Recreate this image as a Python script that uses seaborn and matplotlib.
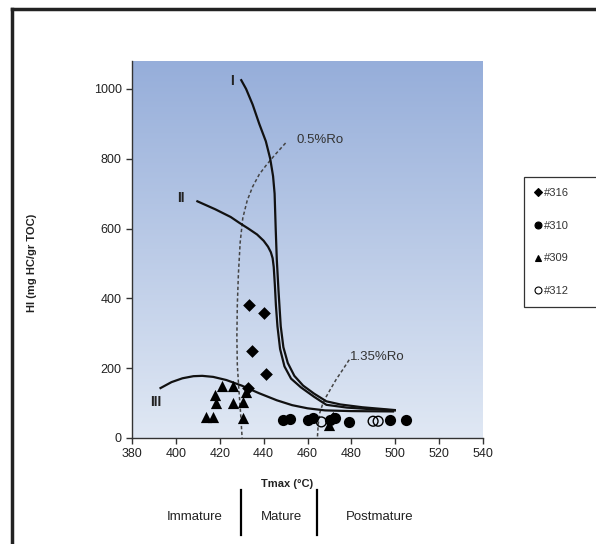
import numpy as np
import pandas as pd
import seaborn as sns
import matplotlib.pyplot as plt
from matplotlib.lines import Line2D

# kerogen type curves (Tmax, HI)
type1_x = [429.8, 432, 435, 438, 441, 443, 444.3, 445, 445.5, 446, 446.8, 447.8, 449, 451, 454, 458, 463, 468.6, 475, 485, 499.8]
type1_y = [1025, 1000, 955, 900, 850, 800, 750, 700, 600, 511, 420, 320, 260, 215, 178, 150, 127, 105, 96, 88, 80]
type2_x = [409.8, 418, 425, 429, 433, 437, 440, 442, 443.3, 444.1, 444.6, 445.1, 445.6, 446.3, 447.5, 449.5, 452.5, 457, 463, 468.6, 478, 490, 499.8]
type2_y = [678, 655, 633, 616, 600, 583, 565, 548, 532, 515, 490, 440, 380, 320, 255, 205, 170, 145, 118, 95, 87, 82, 79]
type3_x = [393, 398, 403, 408, 412, 417, 423, 430, 438, 446, 453, 460, 468, 480, 499]
type3_y = [143, 160, 171, 177, 178, 175, 166, 150, 128, 108, 94, 85, 79, 77, 76]

# vitrinite reflectance iso-lines
ro05_x = [450, 445, 441, 438, 435, 432.5, 430.5, 429.3, 428.5, 428, 427.8, 428, 428.7, 429.4, 430.2]
ro05_y = [845, 810, 780, 755, 720, 680, 630, 560, 470, 380, 290, 210, 140, 80, 0]
ro135_x = [479, 476, 473, 470.5, 468.5, 466.8, 465.6, 464.9, 464.5]
ro135_y = [224, 195, 167, 140, 118, 95, 72, 40, 0]

# samples
w316_x = [433.2, 440, 434.9, 441.2, 432.9, 471.6]
w316_y = [380, 358, 248, 183, 143, 57]
w310_x = [448.8, 451.9, 460.2, 462.5, 470.1, 472.4, 478.8, 497.5, 505]
w310_y = [52, 54, 52, 57, 52, 57, 46, 52, 52]
w309_x = [421, 426, 417.7, 418.5, 426, 430.6, 432.1, 413.9, 416.9, 430.6, 470]
w309_y = [149, 149, 123, 100, 101, 104, 133, 59, 59, 56, 38]
w312_x = [466.3, 489.9, 492.2]
w312_y = [46, 48, 48]

plt.rcParams['font.family'] = ['Liberation Sans', 'DejaVu Sans']

fig = plt.figure(figsize=(5.96, 5.44), dpi=100)
ax = fig.add_axes([0.2215, 0.1949, 0.5889, 0.693])

# gradient background
top = np.array([150, 174, 218]) / 255
bot = np.array([224, 232, 244]) / 255
t = np.linspace(0, 1, 256)[:, None]
grad = (top * (1 - t) + bot * t)[:, None, :].repeat(2, axis=1)
ax.imshow(grad, extent=[380, 540, 0, 1080], aspect='auto', zorder=0)

curves = [(type1_x, type1_y), (type2_x, type2_y), (type3_x, type3_y)]
for cx, cy in curves:
    d = pd.DataFrame({'x': cx, 'y': cy})
    sns.lineplot(data=d, x='x', y='y', sort=False, estimator=None, color='#111111', lw=1.6, ax=ax, zorder=3)

for cx, cy in [(ro05_x, ro05_y), (ro135_x, ro135_y)]:
    d = pd.DataFrame({'x': cx, 'y': cy})
    sns.lineplot(data=d, x='x', y='y', sort=False, estimator=None, color='#444444', lw=1.1,
                 linestyle=(0, (2.2, 1.6)), ax=ax, zorder=2)

samples = [('#316', w316_x, w316_y, 'D', 'black', 42),
           ('#310', w310_x, w310_y, 'o', 'black', 65),
           ('#309', w309_x, w309_y, '^', 'black', 65),
           ('#312', w312_x, w312_y, 'o', 'none', 50)]
handles = []
for name, sx, sy, m, fc, s in samples:
    d = pd.DataFrame({'x': sx, 'y': sy})
    sns.scatterplot(data=d, x='x', y='y', marker=m, s=s, color='black', facecolor=fc,
                    edgecolor='black', linewidth=1.0 if fc == 'none' else 0, ax=ax, zorder=4)
    handles.append(Line2D([], [], ls='none', marker=m, markersize=5 if m != 'D' else 4,
                          markerfacecolor=fc, markeredgecolor='black', markeredgewidth=0.8,
                          label=name))

ax.set_xlim(380, 540)
ax.set_ylim(0, 1080)
ax.set_xticks(range(380, 541, 20))
ax.set_yticks(range(0, 1001, 200))
ax.set_xlabel('')
ax.set_ylabel('')
for side in ['top', 'right']:
    ax.spines[side].set_visible(False)
for side in ['left', 'bottom']:
    ax.spines[side].set_color('#333333')
    ax.spines[side].set_linewidth(1.0)
ax.tick_params(direction='out', length=4, width=1, colors='#333333', labelsize=9, labelcolor='#222222')

# curve and iso-line labels
ax.text(425.5, 1022, 'I', fontsize=10, fontweight='bold', ha='center', va='center', color='#222222')
ax.text(402.5, 688, 'II', fontsize=10, fontweight='bold', ha='center', va='center', color='#222222')
ax.text(390.6, 103, 'III', fontsize=10, fontweight='bold', ha='center', va='center', color='#222222')
ax.text(455, 855, '0.5%Ro', fontsize=9.5, ha='left', va='center', color='#333333')
ax.text(479.5, 233, '1.35%Ro', fontsize=9.5, ha='left', va='center', color='#333333')

leg = fig.legend(handles=handles, loc='upper left', bbox_to_anchor=(0.879, 0.675, 0.2, 0.0),
                 mode='expand', frameon=True, fancybox=False, edgecolor='black', fontsize=8,
                 handlelength=0.6, handletextpad=0.2, labelspacing=2.05, borderpad=1.0,
                 borderaxespad=0)
leg.get_frame().set_linewidth(0.9)
for txt in leg.get_texts():
    txt.set_color('#333333')

fig.text(0.054, 0.516, 'HI (mg HC/gr TOC)', rotation=90, fontsize=8, fontweight='bold',
         ha='center', va='center', color='#222222')
fig.text(287 / 596, 1 - 484 / 544, 'Tmax (°C)', fontsize=8, fontweight='bold',
         ha='center', va='center', color='#222222')
for label, px in [('Immature', 195), ('Mature', 281), ('Postmature', 380)]:
    fig.text(px / 596, 1 - 517 / 544, label, fontsize=9.5, ha='center', va='center', color='#222222')
for px in [241, 317]:
    fig.add_artist(Line2D([px / 596, px / 596], [1 - 490 / 544, 1 - 535 / 544], color='black', lw=1.6))

# outer frame (only top and left edges visible)
fig.add_artist(Line2D([12 / 596, 12 / 596], [0, 1 - 9 / 544], color='#222222', lw=2.5))
fig.add_artist(Line2D([12 / 596, 1], [1 - 9 / 544, 1 - 9 / 544], color='#222222', lw=2.5))

fig.savefig('out.png', dpi=100)
